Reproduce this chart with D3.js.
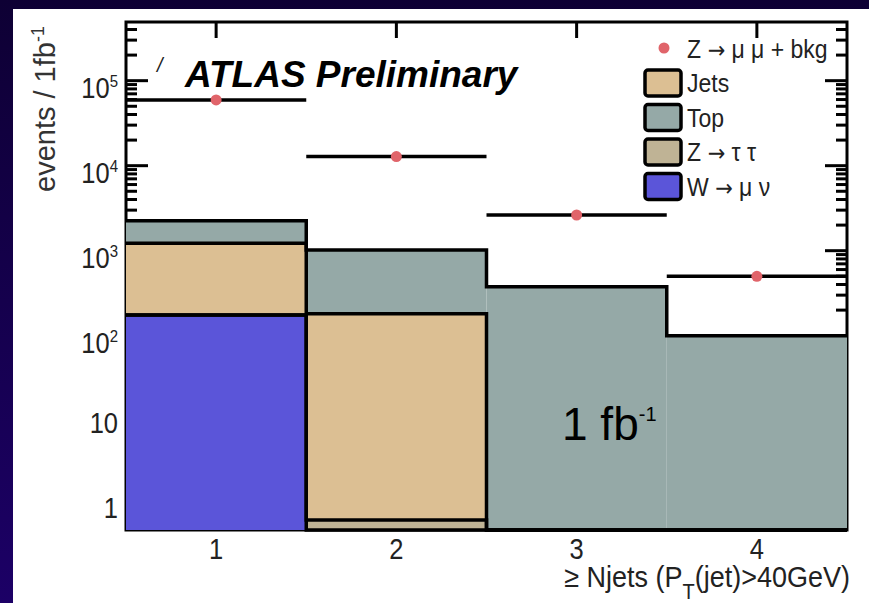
<!DOCTYPE html>
<html>
<head>
  <meta charset="utf-8">
  <style>
    html, body { margin: 0; padding: 0; overflow: hidden; }
    svg { display: block; }
    text { font-family: 'Liberation Sans', Arial, Helvetica, sans-serif; }
  </style>
</head>
<body>
  <script src="https://cdn.jsdelivr.net/npm/d3@7"></script>
  <script>
    // chart values (stacked from bottom: W, Z->tautau, Jets, Top)
    const bins = [1, 2, 3, 4];
    const wMuNu = [175, 0, 0, 0];
    const zTauTau = [0, 0.68, 0, 0];
    const jets = [1045, 180, 0, 0];
    const topQuark = [1030, 840, 377, 100];
    const zMuMuData = [59300, 12800, 2630, 500];
    const yMajorTicks = [1, 10, 100, 1000, 10000, 100000];
    const yTickLabels = [["1", ""], ["10", ""], ["10", "2"], ["10", "3"], ["10", "4"], ["10", "5"]];
    const xTickLabels = ["1", "2", "3", "4"];
    const legendNames = [["Jets"], ["Top"], ["Z ", "\u2192", " \u03c4 \u03c4"], ["W ", "\u2192", " \u03bc \u03bd"]];
    const legendColors = ["#dcbf93", "#95a9a7", "#bfb395", "#5b55d9"];

    const width = 869;
    const height = 603;
    const margin = {top: 22, right: 22, bottom: 73, left: 126};
    const innerWidth = width - margin.left - margin.right;
    const innerHeight = height - margin.top - margin.bottom;

    const svg = d3.select("body").append("svg")
      .attr("width", width)
      .attr("height", height);

    // dark slide background + white panel
    const grad = svg.append("defs").append("linearGradient")
      .attr("id", "bg").attr("x1", 0).attr("y1", 0).attr("x2", 0).attr("y2", 1);
    grad.append("stop").attr("offset", "0%").attr("stop-color", "#0e0034");
    grad.append("stop").attr("offset", "100%").attr("stop-color", "#1c0066");
    svg.append("rect").attr("width", width).attr("height", height).attr("fill", "url(#bg)");
    svg.append("rect").attr("x", 13).attr("y", 9).attr("width", width - 13).attr("height", height - 9)
      .attr("fill", "white");

    const g = svg.append("g")
      .attr("transform", "translate(" + margin.left + "," + margin.top + ")");

    const x = d3.scaleLinear().domain([0.5, 4.5]).range([0, innerWidth]);
    const y = d3.scaleLog().domain([0.518, 490000]).range([innerHeight, 0]).clamp(true);
    const yv = v => y(Math.max(v, 0.518));

    // minor log ticks
    let minorTicks = [];
    for (let e = -1; e <= 5; e++) {
      for (let m = 2; m <= 9; m++) {
        let v = m * Math.pow(10, e);
        if (v > 0.518 && v < 490000) minorTicks.push(v);
      }
    }

    // frame and ticks (drawn first, fills go over them)
    const axisG = g.append("g").attr("stroke", "black");
    axisG.append("rect").attr("width", innerWidth).attr("height", innerHeight)
      .attr("fill", "none").attr("stroke-width", 3);
    axisG.selectAll(".lmaj").data(yMajorTicks).enter().append("line")
      .attr("x1", 0).attr("x2", 22).attr("y1", d => y(d)).attr("y2", d => y(d)).attr("stroke-width", 3);
    axisG.selectAll(".lmin").data(minorTicks).enter().append("line")
      .attr("x1", 0).attr("x2", 11).attr("y1", d => y(d)).attr("y2", d => y(d)).attr("stroke-width", 3);
    axisG.selectAll(".rmaj").data(yMajorTicks).enter().append("line")
      .attr("x1", innerWidth).attr("x2", innerWidth - 22).attr("y1", d => y(d)).attr("y2", d => y(d)).attr("stroke-width", 3);
    axisG.selectAll(".rmin").data(minorTicks).enter().append("line")
      .attr("x1", innerWidth).attr("x2", innerWidth - 11).attr("y1", d => y(d)).attr("y2", d => y(d)).attr("stroke-width", 3);
    axisG.selectAll(".tt").data(bins).enter().append("line")
      .attr("x1", d => x(d)).attr("x2", d => x(d)).attr("y1", 0).attr("y2", 16).attr("stroke-width", 3);

    // stacked histogram
    const layers = [wMuNu, zTauTau, jets, topQuark];
    const layerColors = ["#5b55d9", "#bfb395", "#dcbf93", "#95a9a7"];
    let cumulative = [];
    let running = bins.map(() => 0);
    layers.forEach((layer, li) => {
      const lower = running.slice();
      running = running.map((v, i) => v + layer[i]);
      cumulative.push({lower: lower, upper: running.slice(), color: layerColors[li]});
    });

    const histG = g.append("g");
    cumulative.forEach(c => {
      histG.selectAll(null).data(bins).enter().append("rect")
        .attr("x", d => x(d - 0.5))
        .attr("width", d => x(d + 0.5) - x(d - 0.5))
        .attr("y", (d, i) => yv(c.upper[i]))
        .attr("height", (d, i) => Math.max(0, yv(c.lower[i]) - yv(c.upper[i])))
        .attr("fill", c.color);
    });
    // step outlines of each stacked layer
    cumulative.forEach(c => {
      let p = d3.path();
      bins.forEach((b, i) => {
        if (i === 0) p.moveTo(x(b - 0.5), yv(c.upper[i]));
        else p.lineTo(x(b - 0.5), yv(c.upper[i]));
        p.lineTo(x(b + 0.5), yv(c.upper[i]));
      });
      histG.append("path").attr("d", p.toString())
        .attr("fill", "none").attr("stroke", "black").attr("stroke-width", 3.5);
    });

    // data: horizontal bars + points
    g.selectAll(".err").data(bins).enter().append("line")
      .attr("x1", d => x(d - 0.5)).attr("x2", d => x(d + 0.5))
      .attr("y1", (d, i) => y(zMuMuData[i])).attr("y2", (d, i) => y(zMuMuData[i]))
      .attr("stroke", "black").attr("stroke-width", 3.5);
    g.selectAll(".pt").data(bins).enter().append("circle")
      .attr("cx", d => x(d)).attr("cy", (d, i) => y(zMuMuData[i]))
      .attr("r", 5.5).attr("fill", "#e0646a");

    // y tick labels
    yMajorTicks.forEach((v, i) => {
      const lab = yTickLabels[i];
      const dy = lab[1] ? 17 : 12;
      const t = g.append("g")
        .attr("transform", "translate(-8," + (y(v) + dy) + ") scale(1,1.15)")
        .append("text").attr("text-anchor", "end").attr("font-size", 25.5).attr("fill", "#222")
        .text(lab[0]);
      if (lab[1]) t.append("tspan").attr("font-size", 15).attr("dy", -9.5).text(lab[1]);
    });
    // x tick labels
    bins.forEach((b, i) => {
      g.append("g")
        .attr("transform", "translate(" + x(b) + "," + (innerHeight + 29) + ") scale(1,1.15)")
        .append("text").attr("text-anchor", "middle").attr("font-size", 25.5).attr("fill", "#222")
        .text(xTickLabels[i]);
    });

    // axis titles
    const xt = svg.append("g").attr("transform", "translate(850,587) scale(1,1.1)")
      .append("text").attr("text-anchor", "end").attr("font-size", 27).attr("fill", "#222");
    xt.append("tspan").text("\u2265 Njets (P");
    xt.append("tspan").attr("font-size", 20).attr("dy", 11).text("T");
    xt.append("tspan").attr("dy", -11).text("(jet)>40GeV)");

    const yt = svg.append("text").attr("transform", "translate(55,192) rotate(-90)")
      .attr("font-size", 29).attr("fill", "#333");
    yt.append("tspan").text("events / 1fb");
    yt.append("tspan").attr("font-size", 18).attr("dy", -11).text("-1");

    // labels on the plot
    svg.append("text").attr("x", 157).attr("y", 72).attr("font-size", 20)
      .attr("font-style", "italic").attr("fill", "#222").text("/");
    svg.append("text").attr("x", 185).attr("y", 87).attr("font-size", 37)
      .attr("font-weight", "bold").attr("font-style", "italic").attr("fill", "black")
      .text("ATLAS Preliminary");
    const lumi = svg.append("text").attr("x", 562).attr("y", 440).attr("font-size", 46).attr("fill", "black");
    lumi.append("tspan").text("1 fb");
    lumi.append("tspan").attr("font-size", 20).attr("dy", -19).text("-1");

    // legend
    function legendText(parts, tx, ty) {
      const t = leg.append("g").attr("transform", "translate(" + tx + "," + ty + ") scale(1,1.13)")
        .append("text").attr("font-size", 23).attr("fill", "#222");
      parts.forEach(p => {
        const s = t.append("tspan").text(p);
        if (p === "\u2192") s.attr("font-family", "'DejaVu Sans', sans-serif").attr("font-size", 21);
      });
    }
    const leg = svg.append("g");
    leg.append("circle").attr("cx", 664).attr("cy", 48).attr("r", 5.5).attr("fill", "#e0646a");
    legendText(["Z ", "\u2192", " \u03bc \u03bc + bkg"], 687, 58);
    legendNames.forEach((name, i) => {
      const top = 70 + i * 34.5;
      leg.append("rect").attr("x", 645).attr("y", top).attr("width", 36).attr("height", 26)
        .attr("rx", 3).attr("fill", legendColors[i]).attr("stroke", "black").attr("stroke-width", 3.5);
      legendText(name, 687, top + 22);
    });
  </script>
</body>
</html>
